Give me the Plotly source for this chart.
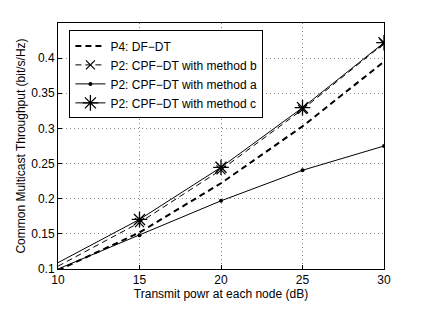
import plotly.graph_objects as go

x_vals = [10, 15, 20, 25, 30]
p4_df_dt = [0.098, 0.152, 0.222, 0.303, 0.395]
p2_method_b = [0.104, 0.166, 0.241, 0.327, 0.421]
p2_method_a = [0.100, 0.148, 0.197, 0.2405, 0.275]
p2_method_c = [0.109, 0.1705, 0.2447, 0.3295, 0.422]

names = ["P4: DF\u2212DT", "P2: CPF\u2212DT with method b",
         "P2: CPF\u2212DT with method a", "P2: CPF\u2212DT with method c"]

fig = go.Figure()
# lines
fig.add_trace(go.Scatter(x=x_vals, y=p4_df_dt, mode="lines",
                         line=dict(color="black", width=2, dash="6px,4px"), showlegend=False))
fig.add_trace(go.Scatter(x=x_vals, y=p2_method_b, mode="lines",
                         line=dict(color="black", width=1, dash="6px,4px"), showlegend=False))
fig.add_trace(go.Scatter(x=x_vals, y=p2_method_a, mode="lines",
                         line=dict(color="black", width=1), showlegend=False))
fig.add_trace(go.Scatter(x=x_vals, y=p2_method_c, mode="lines",
                         line=dict(color="black", width=1), showlegend=False))
# markers (not at first point)
fig.add_trace(go.Scatter(x=x_vals[1:], y=p2_method_b[1:], mode="markers",
                         marker=dict(symbol="x-thin-open", size=9, color="black",
                                     line=dict(width=1.2, color="black")), showlegend=False))
fig.add_trace(go.Scatter(x=x_vals[1:], y=p2_method_a[1:], mode="markers",
                         marker=dict(symbol="circle", size=4, color="black"), showlegend=False))
fig.add_trace(go.Scatter(x=x_vals[1:], y=p2_method_c[1:], mode="markers",
                         marker=dict(symbol="asterisk-open", size=13, color="black",
                                     line=dict(width=1.3, color="black")), showlegend=False))
# legend entries
fig.add_trace(go.Scatter(x=[None], y=[None], mode="lines", name=names[0],
                         line=dict(color="black", width=2, dash="6px,4px")))
fig.add_trace(go.Scatter(x=[None], y=[None], mode="lines+markers", name=names[1],
                         line=dict(color="black", width=1, dash="6px,4px"),
                         marker=dict(symbol="x-thin-open", size=9, color="black",
                                     line=dict(width=1.2, color="black"))))
fig.add_trace(go.Scatter(x=[None], y=[None], mode="lines+markers", name=names[2],
                         line=dict(color="black", width=1),
                         marker=dict(symbol="circle", size=4, color="black")))
fig.add_trace(go.Scatter(x=[None], y=[None], mode="lines+markers", name=names[3],
                         line=dict(color="black", width=1),
                         marker=dict(symbol="asterisk-open", size=13, color="black",
                                     line=dict(width=1.3, color="black"))))

axis_common = dict(showline=True, mirror=True, linecolor="black", linewidth=1,
                   ticks="inside", ticklen=4, tickcolor="black",
                   showgrid=True, gridcolor="#8a8a8a", griddash="1px,3px", gridwidth=1,
                   zeroline=False, tickfont=dict(size=12, color="black"))

fig.update_layout(
    width=417, height=301,
    margin=dict(l=47, r=41, t=15, b=35),
    paper_bgcolor="white", plot_bgcolor="white",
    font=dict(family="Liberation Sans, Arial, sans-serif", size=12, color="black"),
    xaxis=dict(range=[10, 30], tickvals=[10, 15, 20, 25, 30],
               title=dict(text="Transmit powr at each node (dB)", font=dict(size=12), standoff=1),
               **axis_common),
    yaxis=dict(range=[0.1, 0.45], tickvals=[0.1, 0.15, 0.2, 0.25, 0.3, 0.35, 0.4],
               ticktext=["0.1", "0.15", "0.2", "0.25", "0.3", "0.35", "0.4"],
               title=dict(text="Common Multicast Throughput (bit/s/Hz)", font=dict(size=12), standoff=3),
               **axis_common),
    legend=dict(x=0.035, y=0.97, xanchor="left", yanchor="top",
                bgcolor="white", bordercolor="black", borderwidth=1,
                font=dict(size=12), tracegroupgap=0, itemwidth=30),
)

fig.write_html("out.html")
